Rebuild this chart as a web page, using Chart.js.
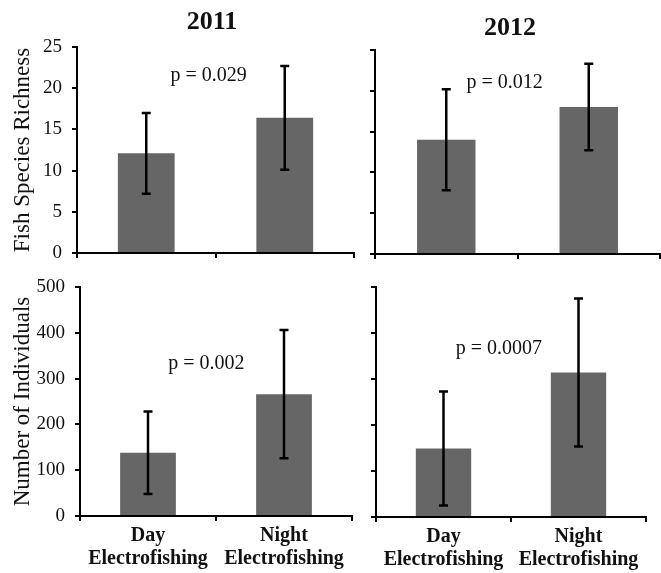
<!DOCTYPE html>
<html><head><meta charset="utf-8">
<script src="https://cdn.jsdelivr.net/npm/chart.js@4.4.0/dist/chart.umd.min.js"></script>
<style>
html,body{margin:0;padding:0;background:#fff;}
#wrap{position:relative;width:661px;height:573px;overflow:hidden;background:#fff;}
canvas{position:absolute;}
</style></head><body>
<div id="wrap">
<canvas id="c1" width="360" height="280" style="left:0;top:0"></canvas>
<canvas id="c2" width="321" height="280" style="left:340px;top:0"></canvas>
<canvas id="c3" width="360" height="318" style="left:0;top:255px"></canvas>
<canvas id="c4" width="321" height="318" style="left:340px;top:255px"></canvas>
</div>
<script>
// ---- data ----
const categories = [["Day", "Electrofishing"], ["Night", "Electrofishing"]];
const years = ["2011", "2012"];
const richness2011 = [12.1, 16.4];
const richness2011Err = [4.9, 6.3];
const richness2012 = [14.0, 18.0];
const richness2012Err = [6.2, 5.3];
const individuals2011 = [138, 266];
const individuals2011Err = [90, 140];
const individuals2012 = [149, 314];
const individuals2012Err = [124, 161];
const pValues = ["p = 0.029", "p = 0.012", "p = 0.002", "p = 0.0007"];
const richnessTicks = [0, 5, 10, 15, 20, 25];
const individualsTicks = [0, 100, 200, 300, 400, 500];
const yTitles = ["Fish Species Richness", "Number of Individuals"];

const SERIF = '"Liberation Serif", "Times New Roman", serif';

const annot = {
  id: 'annot',
  afterDatasetsDraw(chart, args, opts) {
    const ctx = chart.ctx, xs = chart.scales.x, ys = chart.scales.y;
    const meta = chart.getDatasetMeta(0), ds = chart.data.datasets[0];
    ctx.save();
    ctx.strokeStyle = '#000';
    ctx.lineWidth = 2.5;
    meta.data.forEach((bar, i) => {
      const v = ds.data[i], e = ds.errors[i];
      const yt = ys.getPixelForValue(v + e), yb = ys.getPixelForValue(v - e), cx = bar.x;
      ctx.beginPath();
      ctx.moveTo(cx, yt); ctx.lineTo(cx, yb);
      ctx.moveTo(cx - 4.5, yt); ctx.lineTo(cx + 4.5, yt);
      ctx.moveTo(cx - 4.5, yb); ctx.lineTo(cx + 4.5, yb);
      ctx.stroke();
    });
    ctx.fillStyle = '#111';
    ctx.textAlign = 'center';
    ctx.textBaseline = 'middle';
    ctx.font = '20px ' + SERIF;
    ctx.fillText(opts.pText, xs.getPixelForValue(opts.pAt[0]), ys.getPixelForValue(opts.pAt[1]));
    if (opts.title) {
      ctx.font = 'bold 26px ' + SERIF;
      const ca = chart.chartArea;
      ctx.fillText(opts.title, (ca.left + ca.right) / 2 + opts.titleDx, opts.titleY);
    }
    ctx.restore();
  }
};

function makeChart(id, cfg) {
  const t = cfg.ticks;
  new Chart(document.getElementById(id), {
    type: 'bar',
    data: {
      labels: categories,
      datasets: [{
        data: cfg.values,
        errors: cfg.errors,
        backgroundColor: '#666666',
        borderWidth: 0,
        barPercentage: 0.41,
        categoryPercentage: 1
      }]
    },
    options: {
      responsive: false,
      animation: false,
      events: [],
      layout: { padding: { left: 0, top: cfg.top, right: cfg.right, bottom: 0 } },
      plugins: {
        legend: { display: false },
        tooltip: { enabled: false },
        annot: { pText: cfg.pText, pAt: cfg.pAt, title: cfg.title, titleDx: cfg.titleDx, titleY: cfg.titleY }
      },
      scales: {
        x: {
          offset: true,
          grid: { display: true, offset: true, drawOnChartArea: false, drawTicks: true, tickLength: 5, color: '#000', lineWidth: 2 },
          border: { display: true, color: '#000', width: 2 },
          ticks: {
            display: true,
            color: '#111',
            padding: 3,
            maxRotation: 0,
            autoSkip: false,
            font: { family: SERIF, size: 20, weight: 'bold', lineHeight: 1.15 },
            callback: function (v, i) { return cfg.showX ? categories[i] : ''; }
          },
          afterFit: (s) => { s.height = cfg.xh; }
        },
        y: {
          min: t[0],
          max: t[t.length - 1],
          grid: { display: true, drawOnChartArea: false, drawTicks: true, tickLength: 5, color: '#000', lineWidth: 2 },
          border: { display: true, color: '#000', width: 2 },
          ticks: {
            stepSize: t[1] - t[0],
            color: '#111',
            padding: 10,
            font: { family: SERIF, size: 19 },
            callback: function (v) { return cfg.showY ? String(v) : ''; }
          },
          title: {
            display: !!cfg.yTitle,
            text: cfg.yTitle || '',
            color: '#111',
            font: { family: SERIF, size: 23, lineHeight: 1.2 },
            padding: { top: 9, bottom: 0 }
          },
          afterFit: (s) => { s.width = cfg.yw; }
        }
      }
    },
    plugins: [annot]
  });
}

makeChart('c1', { values: richness2011, errors: richness2011Err, ticks: richnessTicks, showX: false, showY: true,
  yTitle: yTitles[0], top: 47, right: 6, yw: 77, xh: 27, pText: pValues[0], pAt: [0.45, 21.5],
  title: years[0], titleDx: -3.5, titleY: 22 });
makeChart('c2', { values: richness2012, errors: richness2012Err, ticks: richnessTicks, showX: false, showY: false,
  yTitle: null, top: 50, right: 1, yw: 35, xh: 26, pText: pValues[1], pAt: [0.41, 21.0],
  title: years[1], titleDx: -7.5, titleY: 28 });
makeChart('c3', { values: individuals2011, errors: individuals2011Err, ticks: individualsTicks, showX: true, showY: true,
  yTitle: yTitles[1], top: 32, right: 8, yw: 80, xh: 57, pText: pValues[2], pAt: [0.43, 332],
  title: null });
makeChart('c4', { values: individuals2012, errors: individuals2012Err, ticks: individualsTicks, showX: true, showY: false,
  yTitle: null, top: 32, right: 15, yw: 36, xh: 56, pText: pValues[3], pAt: [0.41, 366],
  title: null });
</script>
</body></html>
